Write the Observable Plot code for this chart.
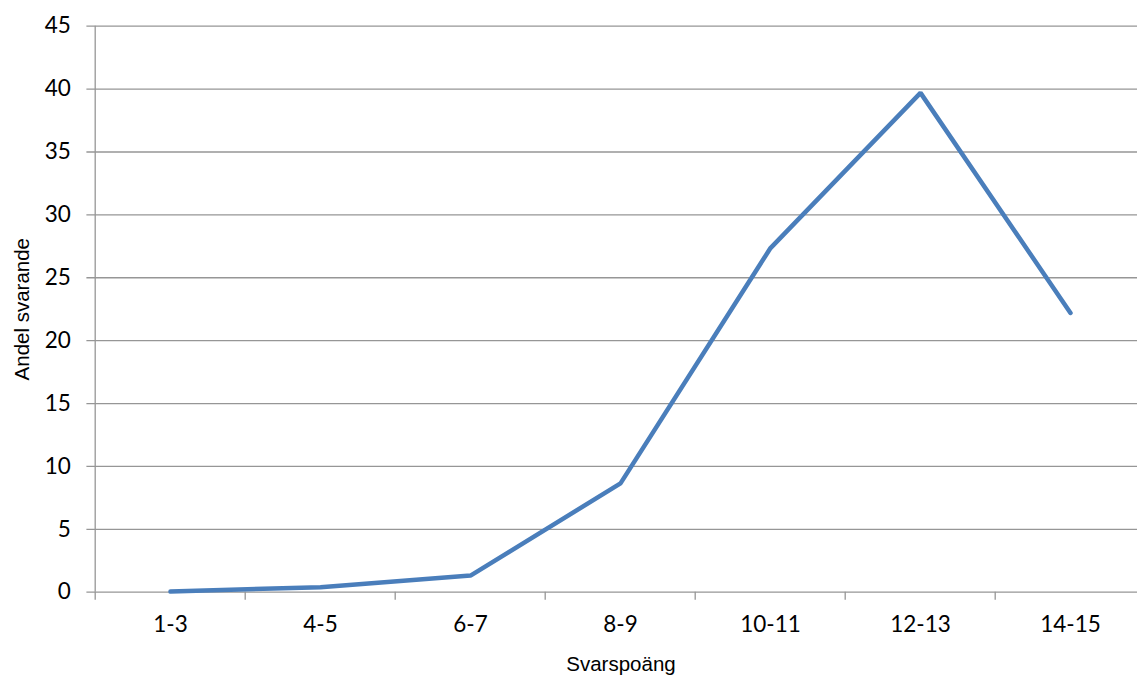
<!DOCTYPE html>
<html>
<head>
<meta charset="utf-8">
<script src="https://cdn.jsdelivr.net/npm/d3@7"></script>
<script src="https://cdn.jsdelivr.net/npm/@observablehq/plot@0.6"></script>
<style>
  html, body { margin: 0; padding: 0; background: #fff; overflow: hidden; }
</style>
</head>
<body>
<div id="chart"></div>
<script>
const categories = ["1-3", "4-5", "6-7", "8-9", "10-11", "12-13", "14-15"];
const values = [0.05, 0.4, 1.32, 8.65, 27.36, 39.7, 22.2];
const yTicks = [0, 5, 10, 15, 20, 25, 30, 35, 40, 45];
const xTitle = "Svarspoäng";
const yTitle = "Andel svarande";

const data = categories.map((c, i) => ({cat: c, val: values[i]}));
const gridColor = "#969696";
const halfStep = 75.3;

const chart = Plot.plot({
  width: 1137,
  height: 677,
  marginLeft: 93.4,
  marginRight: -10.6,
  marginTop: 25.7,
  marginBottom: 85.3,
  style: {fontFamily: "Lato", fontSize: "22px", color: "#000", background: "#fff"},
  x: {type: "point", domain: categories, padding: 0.5, axis: null, label: null},
  y: {domain: [0, 45], axis: null, label: null},
  marks: [
    Plot.ruleY(yTicks, {stroke: gridColor, strokeWidth: 1.3, insetLeft: -7}),
    Plot.ruleX([categories[0]], {dx: -halfStep, stroke: gridColor, strokeWidth: 1.3}),
    Plot.axisX({ticks: categories, tickSize: 8, tickFormat: () => "", label: null, dx: -halfStep, stroke: gridColor, strokeWidth: 1.3, strokeOpacity: 1}),
    Plot.axisX({ticks: categories, tickSize: 0, tickPadding: 24, label: null, fill: "#000", fontSize: 22.5}),
    Plot.axisY({ticks: yTicks, tickSize: 0, tickPadding: 23, label: null, fill: "#000", fontSize: 22.5}),
    Plot.lineY(data, {x: "cat", y: "val", stroke: "#4A7EBB", strokeWidth: 4.5, strokeLinejoin: "miter"}),
    Plot.text([xTitle], {frameAnchor: "bottom", dy: 72, textAnchor: "middle", lineAnchor: "middle", fontFamily: "Liberation Sans", fontSize: 20.5, fill: "#000"}),
    Plot.text([yTitle], {frameAnchor: "left", dx: -71.4, rotate: -90, textAnchor: "middle", lineAnchor: "middle", fontFamily: "Liberation Sans", fontSize: 20.5, fill: "#000"})
  ]
});
document.getElementById("chart").appendChild(chart);
</script>
</body>
</html>
